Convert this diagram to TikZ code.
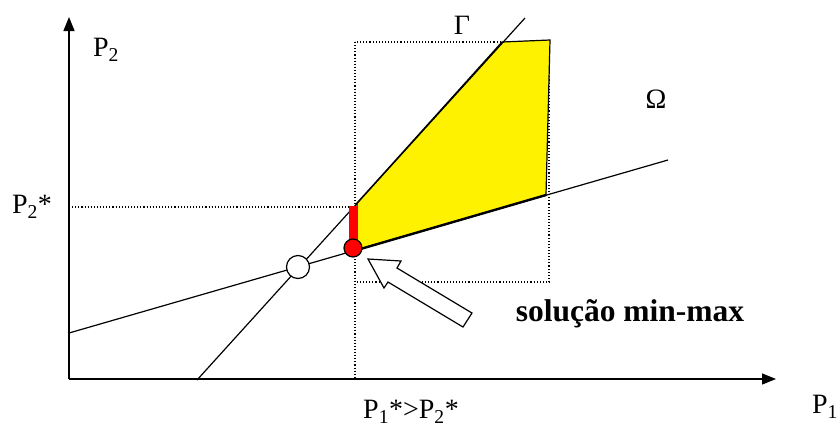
\documentclass[tikz,border=0pt]{standalone}
\usepackage{fontspec}
\setmainfont{Liberation Serif}
\usetikzlibrary{arrows.meta}
\begin{document}
\begin{tikzpicture}[x=1pt,y=-1pt,
  lbl/.style={inner sep=0pt,font=\fontsize{28}{30}\selectfont},
  axis/.style={line width=1.3pt,-{Triangle[length=14pt,width=11pt]}},
  guide/.style={line width=1.1pt,dotted},
  curve/.style={line width=1.2pt},
  region/.style={fill=yellow,draw=black,line width=1.2pt,line join=miter},
  hollowarrow/.style={fill=white,draw=black,line width=1.2pt}]
\useasboundingbox (0,0) rectangle (839,432);
% coordinates
\coordinate (O) at (69,379);
\coordinate (Ytop) at (69,17);
\coordinate (Xend) at (776,379);
\coordinate (G1) at (197,380);
\coordinate (G2) at (525,18);
\coordinate (W1) at (69,333);
\coordinate (W2) at (668,160);
\coordinate (H1) at (69,207);
\coordinate (H2) at (355,207);
\coordinate (V1) at (355,42);
\coordinate (V2) at (355,379);
\coordinate (BoxBR) at (549,282);
\coordinate (A) at (357,250);
\coordinate (B) at (357,203);
\coordinate (C) at (502,42);
\coordinate (D) at (550,40);
\coordinate (E) at (546,195);
% dotted guides
\draw[guide] (H1) -- (H2);
\draw[guide] (V1) -- (V2);
\draw[guide] (V1) rectangle (BoxBR);
% axes
\draw[axis] (O) -- (Ytop);
\draw[axis] (O) -- (Xend);
% feasible region
\draw[region] (A) -- (B) -- (C) -- (D) -- (E) -- cycle;
\draw[line width=2.4pt] (A) -- (E);
% lines
\draw[curve] (G1) -- (G2);
\draw[curve] (W1) -- (W2);
% red bar and dot
\coordinate (R1) at (353,206);
\coordinate (R2) at (353,248);
\draw[red,line width=8pt] (R1) -- (R2);
\node[circle,fill=red,draw=black,line width=1.2pt,minimum size=18pt,inner sep=0pt] (red) at (R2) {};
% white circle
\node[circle,fill=white,draw=black,line width=1.2pt,minimum size=23pt,inner sep=0pt] (cross) at (298,267) {};
% hollow arrow
\draw[hollowarrow] (368,259) -- (401,261) -- (397,268) -- (472,313) -- (463,327) -- (388,282) -- (384,288) -- cycle;
% labels
\node[lbl] (gamma) at (462,25) {Γ};
\node[lbl] (omega) at (656,99) {Ω};
\node[lbl] (p2) at (106,50) {P\textsubscript{2}};
\node[lbl] (p2s) at (32,207) {P\textsubscript{2}*};
\node[lbl] (p1s) at (411,412) {P\textsubscript{1}*>P\textsubscript{2}*};
\node[lbl] (p1) at (825,407) {P\textsubscript{1}};
\node[inner sep=0pt,font=\fontsize{31.5}{33}\selectfont\bfseries] (sol) at (630,314) {solução min-max};
\end{tikzpicture}
\end{document}
